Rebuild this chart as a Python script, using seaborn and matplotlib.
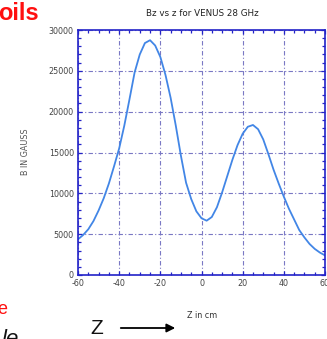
import matplotlib
matplotlib.use("Agg")
import matplotlib.pyplot as plt
import seaborn as sns
import pandas as pd
from matplotlib.ticker import MultipleLocator

# Data (B field on axis vs z)
z_cm = [-60, -57.5, -55, -52.5, -50, -47.5, -45, -42.5, -40, -37.5, -35, -32.5, -30,
        -27.5, -25, -22.5, -20, -17.5, -15, -12.5, -10, -7.5, -5, -2.5, 0, 2.5, 5,
        7.5, 10, 12.5, 15, 17.5, 20, 22.5, 25, 27.5, 30, 32.5, 35, 37.5, 40, 42.5,
        45, 47.5, 50, 52.5, 55, 57.5, 60]
b_gauss = [4370, 4900, 5600, 6600, 7900, 9400, 11200, 13300, 15500, 18300, 21500, 24800,
           27000, 28400, 28750, 28100, 26700, 24500, 21700, 18300, 14600, 11300, 9300,
           7800, 6950, 6650, 7100, 8300, 10100, 12100, 14100, 15900, 17300, 18150, 18370,
           17850, 16600, 14800, 12900, 11200, 9590, 8100, 6800, 5500, 4600, 3800, 3200,
           2750, 2400]
x_ticks = [-60, -40, -20, 0, 20, 40, 60]
y_ticks = [0, 5000, 10000, 15000, 20000, 25000, 30000]
title = "Bz vs z for VENUS 28 GHz"
x_label = "Z in cm"
y_label = "B IN GAUSS"

df = pd.DataFrame({"z": z_cm, "B": b_gauss})

sns.set_theme(style="white")
plt.rcParams['font.family'] = ['DejaVu Sans']

W, H = 327, 339
fig = plt.figure(figsize=(W / 100, H / 100), dpi=100)
ax = fig.add_axes([78 / W, 1 - 275 / H, 247 / W, 245 / H])

frame_c = "#2323c8"
grid_c = "#7a78c4"

sns.lineplot(data=df, x="z", y="B", ax=ax, color="#4286e6", linewidth=1.3)

ax.set_xlim(-60, 60)
ax.set_ylim(0, 30000)
ax.set_xticks(x_ticks)
ax.set_yticks(y_ticks)
ax.set_xticklabels([str(t) for t in x_ticks])
ax.set_yticklabels([str(t) for t in y_ticks])
ax.xaxis.set_minor_locator(MultipleLocator(5))
ax.yaxis.set_minor_locator(MultipleLocator(1000))
ax.tick_params(which="both", direction="in", top=True, right=True, bottom=True, left=True,
               color=frame_c, width=0.9, labelsize=5.8, labelcolor="#444444")
ax.tick_params(which="major", length=3, pad=3)
ax.tick_params(which="minor", length=2.5)
ax.grid(True, which="major", color=grid_c, linestyle=(0, (4, 2, 1, 2)), linewidth=0.8)
for s in ax.spines.values():
    s.set_color(frame_c)
    s.set_linewidth(1.2)
ax.set_xlabel("")
ax.set_ylabel("")


def px(x, y):
    return x / W, 1 - y / H


fig.text(*px(202, 14), title, ha="center", va="center", fontsize=6.3, color="#222222")
fig.text(*px(202, 315), x_label, ha="center", va="center", fontsize=5.8, color="#333333")
fig.text(*px(25, 152), y_label, ha="center", va="center", rotation=90, fontsize=5.8,
         color="#555555")

# slide fragments around the chart
fig.text(*px(-2, 20), "oils", ha="left", va="baseline", fontsize=17, fontweight="bold",
         color="#ff1010", family="Liberation Sans")
fig.text(*px(-3, 314), "e", ha="left", va="baseline", fontsize=13,
         color="#ff1010", family="Liberation Sans")
fig.text(*px(2, 345), "le", ha="left", va="baseline", fontsize=16, style="italic",
         color="#111111", family="Liberation Sans")
fig.text(*px(97, 328), "Z", ha="center", va="center", fontsize=15,
         color="#111111", family="Liberation Sans")
fig.add_artist(matplotlib.patches.FancyArrowPatch(
    px(118, 328), px(178, 328), transform=fig.transFigure,
    arrowstyle="-|>,head_length=5,head_width=2.5", color="black", linewidth=1.3))

fig.savefig("out.png", dpi=100)
